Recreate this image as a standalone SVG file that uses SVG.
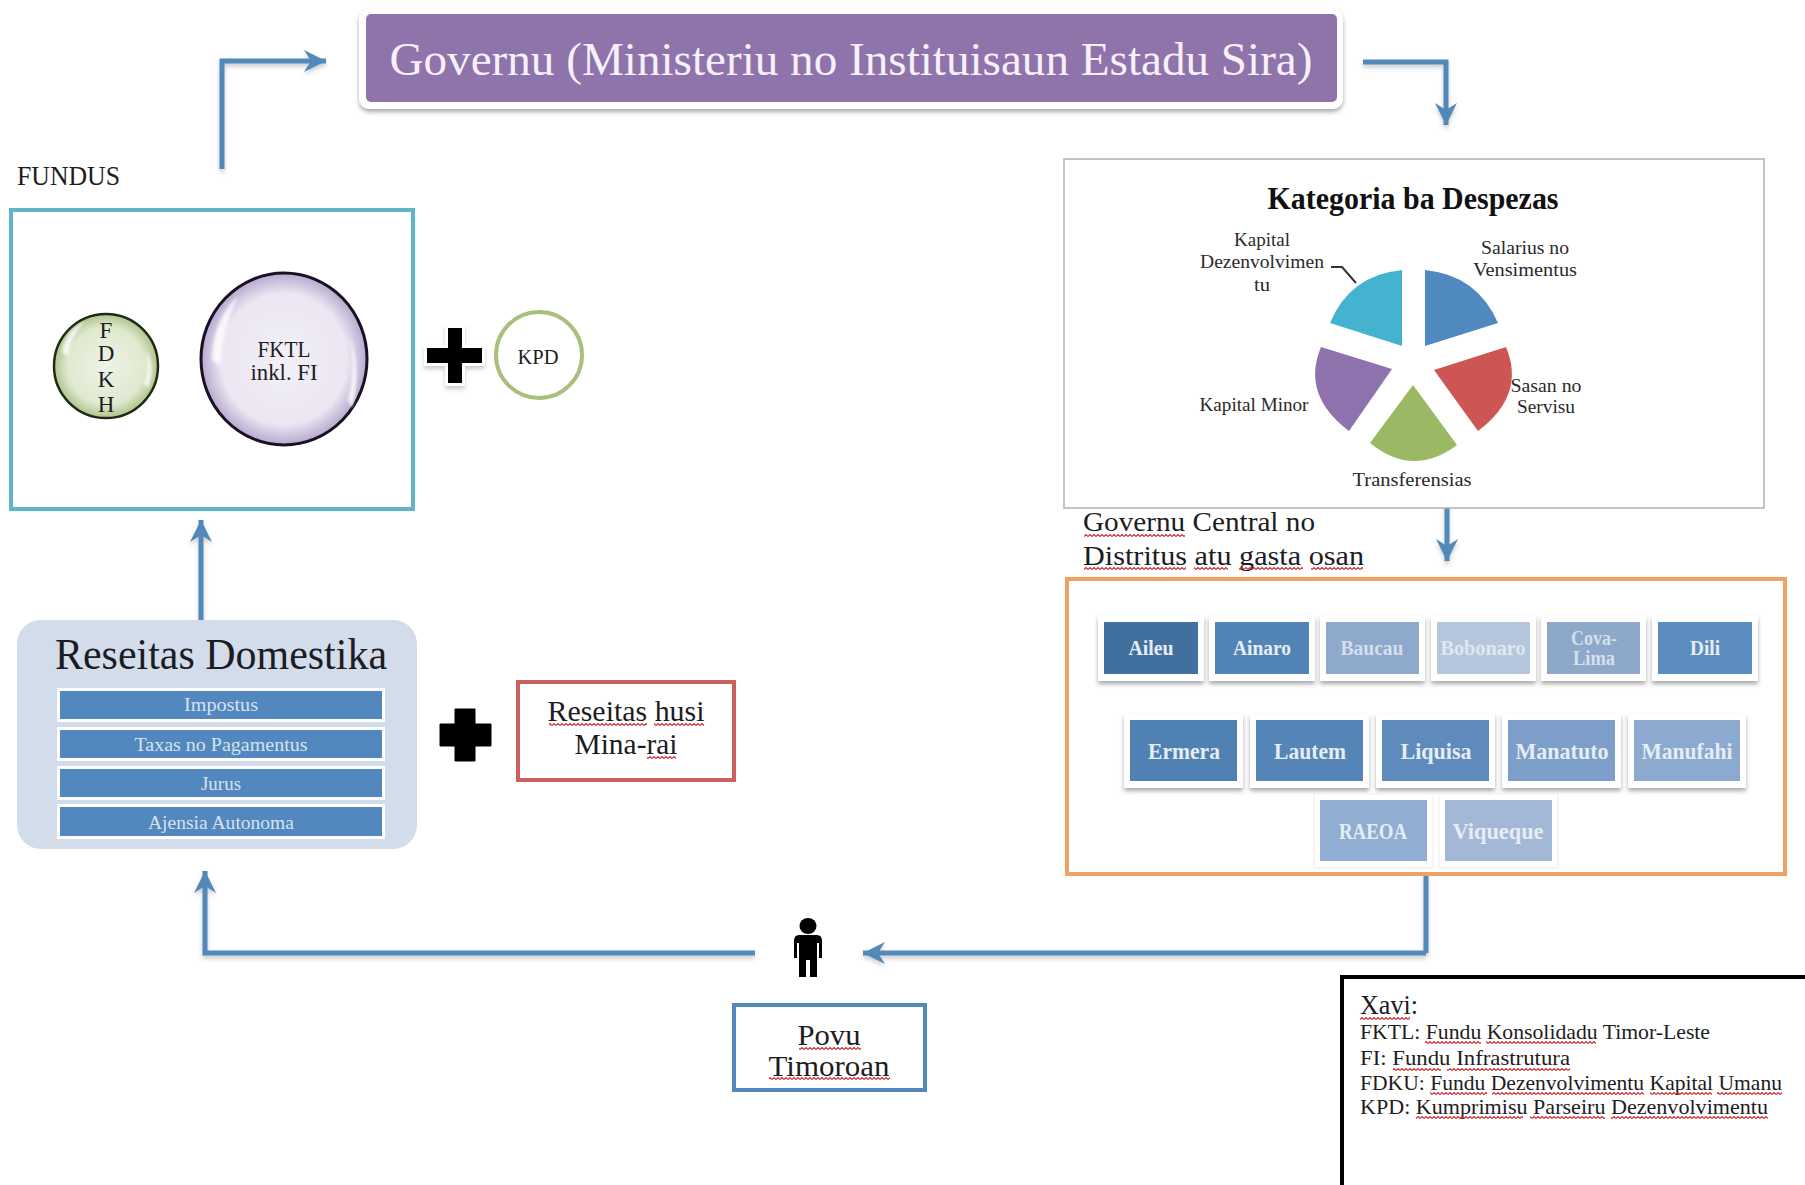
<svg xmlns="http://www.w3.org/2000/svg" width="1805" height="1185" viewBox="0 0 1805 1185">
<style>
text{font-family:"Liberation Serif","DejaVu Serif",serif;fill:#1c1c22}
.m{text-anchor:middle}
.w{fill:#e6edf5;font-weight:bold;font-size:20px;text-anchor:middle}
.w2{font-size:23px}
.bar{fill:#d6e2f0;font-size:19.5px;text-anchor:middle}
.pl{font-size:19px;text-anchor:middle;fill:#2a2a2a}
.conn{fill:none;stroke:#5288ba;stroke-width:5}
.frame{fill:#fff;filter:url(#sh)}
.sq{fill:url(#wave)}
</style>
<defs>
<filter id="sh" x="-20%" y="-20%" width="140%" height="150%"><feDropShadow dx="0" dy="3" stdDeviation="2" flood-color="#555" flood-opacity=".5"/></filter>
<filter id="ls" x="-20%" y="-20%" width="140%" height="140%"><feDropShadow dx="0" dy="3" stdDeviation="2" flood-color="#555" flood-opacity=".3"/></filter>
<filter id="soft" x="-50%" y="-50%" width="200%" height="200%"><feGaussianBlur stdDeviation="1.5"/></filter>
<pattern id="wave" patternUnits="userSpaceOnUse" width="4" height="3"><path d="M0 2.5L2 .5L4 2.5" fill="none" stroke="#cf2a30" stroke-width="1.1"/></pattern>
<marker id="ah" markerUnits="userSpaceOnUse" markerWidth="30" markerHeight="34" refX="23" refY="17" orient="auto"><path d="M1 6L23 17L1 28L8 17Z" fill="#5288ba"/></marker>
<radialGradient id="gg" cx=".5" cy=".5" r=".53"><stop offset="0" stop-color="#eef3e6"/><stop offset=".7" stop-color="#e0e9d0"/><stop offset="1" stop-color="#a4ba7c"/></radialGradient>
<radialGradient id="pg" cx=".5" cy=".5" r=".53"><stop offset="0" stop-color="#f3f0f7"/><stop offset=".72" stop-color="#ebe6f2"/><stop offset="1" stop-color="#a999c4"/></radialGradient>
</defs>
<rect width="1805" height="1185" fill="#fff"/>

<g id="connectors" filter="url(#ls)">
<path class="conn" marker-end="url(#ah)" d="M222 169V61H326"/>
<path class="conn" marker-end="url(#ah)" d="M1363 62H1446V125"/>
<path class="conn" marker-end="url(#ah)" d="M1447 497V561"/>
<path class="conn" d="M1426 875V953"/>
<path class="conn" marker-end="url(#ah)" d="M1426 953H863"/>
<path class="conn" marker-end="url(#ah)" d="M755 953H205V871"/>
<path class="conn" marker-end="url(#ah)" d="M201 623V520"/>
</g>

<g id="governu">
<rect class="frame" x="359" y="9" width="984" height="100" rx="10"/>
<rect x="366" y="14" width="971" height="88" rx="5" fill="#8f74ab"/>
<text x="851" y="75" class="m" font-size="47" textLength="923" lengthAdjust="spacingAndGlyphs" style="fill:#f6f0fa">Governu (Ministeriu no Instituisaun Estadu Sira)</text>
</g>

<g id="fundus">
<text x="17" y="185" font-size="27" textLength="103" lengthAdjust="spacingAndGlyphs">FUNDUS</text>
<rect x="11" y="210" width="402" height="299" fill="#fff" stroke="#5fb4c8" stroke-width="4"/>
</g>
<g id="fdkh">
<ellipse cx="106" cy="366" rx="52" ry="52" fill="url(#gg)" stroke="#1f2a14" stroke-width="2.5"/>
<path d="M62 352Q66 330 84 322Q70 338 68 356Z M144 384Q150 368 146 350Q156 368 148 388Z" fill="#fff" opacity=".8" filter="url(#soft)"/>
<text x="106" y="338" class="m" font-size="23">F</text>
<text x="106" y="361" class="m" font-size="23">D</text>
<text x="106" y="387" class="m" font-size="23">K</text>
<text x="106" y="412" class="m" font-size="23">H</text>
</g>
<g id="fktl">
<ellipse cx="284" cy="359" rx="83" ry="86" fill="url(#pg)" stroke="#1a1024" stroke-width="3"/>
<path d="M212 360Q212 322 238 296Q222 330 220 366Z M348 400Q356 370 350 336Q362 372 352 408Z" fill="#fff" opacity=".8" filter="url(#soft)"/>
<text x="284" y="357" class="m" font-size="24" textLength="53" lengthAdjust="spacingAndGlyphs">FKTL</text>
<text x="284" y="380" class="m" font-size="24" textLength="67" lengthAdjust="spacingAndGlyphs">inkl. FI</text>
</g>
<g id="plus-1">
<path d="M448 328h14v20h20v15h-20v20h-14v-20h-21v-15h21z" fill="#000" stroke="#fff" stroke-width="6" paint-order="stroke" filter="url(#ls)"/>
</g>
<g id="kpd">
<circle cx="539" cy="355" r="43" fill="#fff" stroke="#a9c07d" stroke-width="4"/>
<text x="538" y="364" class="m" font-size="21" textLength="41" lengthAdjust="spacingAndGlyphs">KPD</text>
</g>

<g id="kategoria">
<rect x="1064" y="159" width="700" height="349" fill="#fff" stroke="#aeb2b6" stroke-width="1.5"/>
<text x="1413" y="209" class="m" font-size="31" font-weight="bold" textLength="291" lengthAdjust="spacingAndGlyphs" style="fill:#111">Kategoria ba Despezas</text>
<path d="M1425 346V270Q1477 275 1498 323Z" fill="#4f89bf"/>
<path d="M1434 370L1506 347Q1526 395 1478 431Z" fill="#cd5553"/>
<path d="M1413 385L1457 445Q1413 478 1370 443Z" fill="#9bb964"/>
<path d="M1392 369L1349 431Q1301 395 1321 347Z" fill="#8e72ae"/>
<path d="M1402 346L1330 323Q1350 275 1402 270Z" fill="#44b3cf"/>
<path d="M1331 267H1342L1356 283" fill="none" stroke="#333" stroke-width="2"/>
<text x="1262" y="246" class="pl" textLength="56" lengthAdjust="spacingAndGlyphs">Kapital</text>
<text x="1262" y="268" class="pl" textLength="124" lengthAdjust="spacingAndGlyphs">Dezenvolvimen</text>
<text x="1262" y="291" class="pl" textLength="16" lengthAdjust="spacingAndGlyphs">tu</text>
<text x="1525" y="254" class="pl" textLength="88" lengthAdjust="spacingAndGlyphs">Salarius no</text>
<text x="1525" y="276" class="pl" textLength="104" lengthAdjust="spacingAndGlyphs">Vensimentus</text>
<text x="1546" y="392" class="pl" textLength="71" lengthAdjust="spacingAndGlyphs">Sasan no</text>
<text x="1546" y="413" class="pl" textLength="58" lengthAdjust="spacingAndGlyphs">Servisu</text>
<text x="1254" y="411" class="pl" textLength="109" lengthAdjust="spacingAndGlyphs">Kapital Minor</text>
<text x="1412" y="486" class="pl" textLength="119" lengthAdjust="spacingAndGlyphs">Transferensias</text>
</g>

<g id="distritus">
<text x="1083" y="531" font-size="28" textLength="232" lengthAdjust="spacingAndGlyphs">Governu Central no</text>
<text x="1083" y="565" font-size="28" textLength="281" lengthAdjust="spacingAndGlyphs">Distritus atu gasta osan</text>
<rect class="sq" x="1084" y="534" width="101" height="3"/>
<rect class="sq" x="1084" y="567" width="102" height="3"/>
<rect class="sq" x="1194" y="567" width="34" height="3"/>
<rect class="sq" x="1239" y="567" width="64" height="3"/>
<rect class="sq" x="1311" y="567" width="52" height="3"/>
<rect x="1067" y="579" width="718" height="295" fill="#fff" stroke="#f0a264" stroke-width="4"/>
</g>

<g id="d-aileu"><rect class="frame" x="1098" y="616" width="106" height="65"/><rect x="1104" y="622" width="94" height="52" fill="#41709f"/><text class="w" x="1151" y="655" textLength="45" lengthAdjust="spacingAndGlyphs">Aileu</text></g>
<g id="d-ainaro"><rect class="frame" x="1209" y="616" width="106" height="65"/><rect x="1215" y="622" width="94" height="52" fill="#5384b6"/><text class="w" x="1262" y="655" textLength="58" lengthAdjust="spacingAndGlyphs">Ainaro</text></g>
<g id="d-baucau"><rect class="frame" x="1320" y="616" width="105" height="65"/><rect x="1326" y="622" width="93" height="52" fill="#8ea9cb"/><text class="w" x="1372" y="655" textLength="63" lengthAdjust="spacingAndGlyphs" style="fill:#d5dfec">Baucau</text></g>
<g id="d-bobonaro"><rect class="frame" x="1431" y="616" width="105" height="65"/><rect x="1437" y="622" width="93" height="52" fill="#b6c6dd"/><text class="w" x="1483" y="655" textLength="85" lengthAdjust="spacingAndGlyphs" style="fill:#dfe7f1">Bobonaro</text></g>
<g id="d-covalima"><rect class="frame" x="1541" y="616" width="105" height="65"/><rect x="1547" y="622" width="93" height="52" fill="#8ea8ca"/><text class="w" x="1594" y="645" textLength="46" lengthAdjust="spacingAndGlyphs" style="fill:#d5dfec">Cova-</text><text class="w" x="1594" y="665" textLength="42" lengthAdjust="spacingAndGlyphs" style="fill:#d5dfec">Lima</text></g>
<g id="d-dili"><rect class="frame" x="1652" y="616" width="106" height="65"/><rect x="1658" y="622" width="94" height="52" fill="#5b8cbd"/><text class="w" x="1705" y="655" textLength="30" lengthAdjust="spacingAndGlyphs">Dili</text></g>

<g id="d-ermera"><rect class="frame" x="1124" y="714" width="119" height="74"/><rect x="1130" y="720" width="107" height="61" fill="#4f81b3"/><text class="w w2" x="1184" y="759" textLength="72" lengthAdjust="spacingAndGlyphs">Ermera</text></g>
<g id="d-lautem"><rect class="frame" x="1250" y="714" width="119" height="74"/><rect x="1256" y="720" width="107" height="61" fill="#5585b7"/><text class="w w2" x="1310" y="759" textLength="72" lengthAdjust="spacingAndGlyphs">Lautem</text></g>
<g id="d-liquisa"><rect class="frame" x="1376" y="714" width="119" height="74"/><rect x="1382" y="720" width="107" height="61" fill="#5e8bbb"/><text class="w w2" x="1436" y="759" textLength="71" lengthAdjust="spacingAndGlyphs">Liquisa</text></g>
<g id="d-manatuto"><rect class="frame" x="1502" y="714" width="119" height="74"/><rect x="1508" y="720" width="107" height="61" fill="#7c9ec8"/><text class="w w2" x="1562" y="759" textLength="93" lengthAdjust="spacingAndGlyphs">Manatuto</text></g>
<g id="d-manufahi"><rect class="frame" x="1628" y="714" width="118" height="74"/><rect x="1634" y="720" width="106" height="61" fill="#8ca9cf"/><text class="w w2" x="1687" y="759" textLength="91" lengthAdjust="spacingAndGlyphs">Manufahi</text></g>
<g id="d-raeoa"><rect x="1314" y="794" width="119" height="74" fill="#fff" stroke="#eee"/><rect x="1320" y="800" width="107" height="61" fill="#92add2"/><text class="w w2" x="1373" y="839" textLength="68" lengthAdjust="spacingAndGlyphs">RAEOA</text></g>
<g id="d-viqueque"><rect x="1439" y="794" width="119" height="74" fill="#fff" stroke="#eee"/><rect x="1445" y="800" width="107" height="61" fill="#a3b8d7"/><text class="w w2" x="1498" y="839" textLength="91" lengthAdjust="spacingAndGlyphs">Viqueque</text></g>

<g id="reseitas-domestika">
<rect x="17" y="620" width="400" height="229" rx="24" fill="#d3dcea"/>
<text x="221" y="669" class="m" font-size="44" textLength="332" lengthAdjust="spacingAndGlyphs">Reseitas Domestika</text>
<rect x="57" y="688" width="328" height="34" fill="#fff"/>
<rect x="60" y="691" width="322" height="28" fill="#5288bd"/>
<text x="221" y="711" class="bar" textLength="74" lengthAdjust="spacingAndGlyphs">Impostus</text>
<rect x="57" y="727" width="328" height="34" fill="#fff"/>
<rect x="60" y="730" width="322" height="28" fill="#5288bd"/>
<text x="221" y="751" class="bar" textLength="173" lengthAdjust="spacingAndGlyphs">Taxas no Pagamentus</text>
<rect x="57" y="766" width="328" height="34" fill="#fff"/>
<rect x="60" y="769" width="322" height="28" fill="#5288bd"/>
<text x="221" y="790" class="bar" textLength="40" lengthAdjust="spacingAndGlyphs">Jurus</text>
<rect x="57" y="804" width="328" height="35" fill="#fff"/>
<rect x="60" y="807" width="322" height="29" fill="#5288bd"/>
<text x="221" y="829" class="bar" textLength="146" lengthAdjust="spacingAndGlyphs">Ajensia Autonoma</text>
</g>
<g id="plus-2">
<path d="M455 709h20v15h16v22h-16v15h-20v-15h-15v-22h15z" fill="#000" stroke="#000" stroke-width="1" stroke-linejoin="round"/>
</g>
<g id="reseitas-mina-rai">
<rect x="518" y="682" width="216" height="98" fill="#fff" stroke="#c9605f" stroke-width="4"/>
<text x="626" y="721" class="m" font-size="29" textLength="157" lengthAdjust="spacingAndGlyphs">Reseitas husi</text>
<text x="626" y="754" class="m" font-size="29" textLength="103" lengthAdjust="spacingAndGlyphs">Mina-rai</text>
<rect class="sq" x="549" y="723" width="98" height="3"/>
<rect class="sq" x="654" y="723" width="50" height="3"/>
<rect class="sq" x="647" y="756" width="29" height="3"/>
</g>

<g id="person">
<ellipse cx="808" cy="926" rx="8.5" ry="8" fill="#000"/>
<path d="M799 935H817Q822 935 822 941V958H819V943H817V977H810V960H806V977H799V943H797V958H794V941Q794 935 799 935Z" fill="#000"/>
</g>
<g id="povu">
<rect x="734" y="1005" width="191" height="85" fill="#fff" stroke="#5288ba" stroke-width="4"/>
<text x="829" y="1045" class="m" font-size="29" textLength="63" lengthAdjust="spacingAndGlyphs">Povu</text>
<text x="829" y="1076" class="m" font-size="29" textLength="121" lengthAdjust="spacingAndGlyphs">Timoroan</text>
<rect class="sq" x="799" y="1047" width="62" height="3"/>
<rect class="sq" x="769" y="1077" width="121" height="3"/>
</g>

<g id="xavi">
<rect x="1342" y="977" width="470" height="220" fill="#fff" stroke="#000" stroke-width="4"/>
<text x="1360" y="1014" font-size="28" textLength="58" lengthAdjust="spacingAndGlyphs">Xavi:</text>
<text x="1360" y="1039" font-size="21" textLength="350" lengthAdjust="spacingAndGlyphs">FKTL: Fundu Konsolidadu Timor-Leste</text>
<text x="1360" y="1065" font-size="21" textLength="210" lengthAdjust="spacingAndGlyphs">FI: Fundu Infrastrutura</text>
<text x="1360" y="1090" font-size="21" textLength="422" lengthAdjust="spacingAndGlyphs">FDKU: Fundu Dezenvolvimentu Kapital Umanu</text>
<text x="1360" y="1114" font-size="21" textLength="408" lengthAdjust="spacingAndGlyphs">KPD: Kumprimisu Parseiru Dezenvolvimentu</text>
<rect class="sq" x="1360" y="1017" width="50" height="3"/>
<rect class="sq" x="1425" y="1041" width="56" height="3"/>
<rect class="sq" x="1486" y="1041" width="110" height="3"/>
<rect class="sq" x="1393" y="1068" width="48" height="3"/>
<rect class="sq" x="1447" y="1068" width="123" height="3"/>
<rect class="sq" x="1430" y="1092" width="57" height="3"/>
<rect class="sq" x="1492" y="1092" width="152" height="3"/>
<rect class="sq" x="1650" y="1092" width="62" height="3"/>
<rect class="sq" x="1717" y="1092" width="65" height="3"/>
<rect class="sq" x="1416" y="1116" width="107" height="3"/>
<rect class="sq" x="1530" y="1116" width="75" height="3"/>
<rect class="sq" x="1611" y="1116" width="157" height="3"/>
</g>
</svg>
